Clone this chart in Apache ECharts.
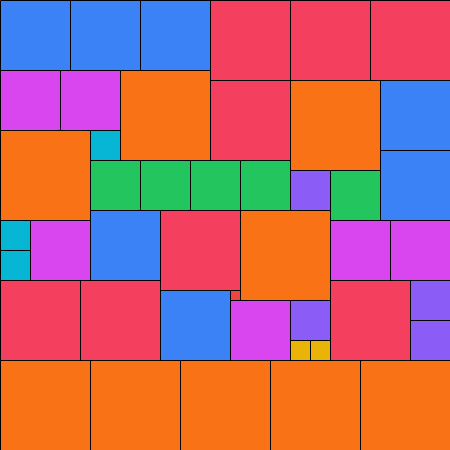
<!DOCTYPE html>
<html>
<head>
<meta charset="utf-8">
<script src="https://cdn.jsdelivr.net/npm/echarts@6/dist/echarts.min.js"></script>
<style>html,body{margin:0;padding:0;background:#fff}#c{width:450px;height:450px}</style>
</head>
<body>
<div id="c"></div>
<script>
// Square packing: left, top, side length, kind
const xs    = [0,70,140,210,290,370, 0,60,120,210,290,380,380, 0,90,90,140,190,240,290,330, 0,0,30,90,160,240,330,390, 0,80,160,230,230,290,290,310,330,410,410, 0,90,180,270,360];
const ys    = [0,0,0,0,0,0, 70,70,70,80,80,80,150, 130,130,160,160,160,160,170,170, 220,250,220,210,210,210,220,220, 280,280,290,290,300,300,340,340,280,280,320, 360,360,360,360,360];
const sizes = [70,70,70,80,80,80, 60,60,90,80,90,70,70, 90,30,50,50,50,50,40,50, 30,30,60,70,80,90,60,60, 80,80,70,10,60,40,20,20,80,40,40, 90,90,90,90,90];
const kinds = ['blue','blue','blue','red','red','red',
  'magenta','magenta','orange','red','orange','blue','blue',
  'orange','cyan','green','green','green','green','purple','green',
  'cyan','cyan','magenta','blue','red','orange','magenta','magenta',
  'red','red','blue','red2','magenta','purple','yellow','yellow','red','purple','purple',
  'orange','orange','orange','orange','orange'];
const palette = {blue:'#3b82f6', red:'#f43f5e', red2:'#ef4444', magenta:'#d946ef', orange:'#f97316',
  cyan:'#06b6d4', green:'#22c55e', purple:'#8b5cf6', yellow:'#eab308'};

const data = xs.map((x, i) => [x, ys[i], sizes[i], i]);
const chart = echarts.init(document.getElementById('c'));
chart.setOption({
  animation: false,
  grid: {left: 0, right: 0, top: 0, bottom: 0},
  xAxis: {type: 'value', min: 0, max: 450, show: false},
  yAxis: {type: 'value', min: 0, max: 450, inverse: true, show: false},
  series: [{
    type: 'custom',
    data: data,
    renderItem: function (params, api) {
      const x = api.value(0), y = api.value(1), s = api.value(2), i = api.value(3);
      const p0 = api.coord([x, y]);
      const p1 = api.coord([x + s, y + s]);
      return {
        type: 'rect',
        shape: {x: p0[0] + 0.5, y: p0[1] + 0.5, width: p1[0] - p0[0], height: p1[1] - p0[1]},
        style: {fill: palette[kinds[i]], stroke: '#000', lineWidth: 1}
      };
    }
  }]
});
</script>
</body>
</html>
